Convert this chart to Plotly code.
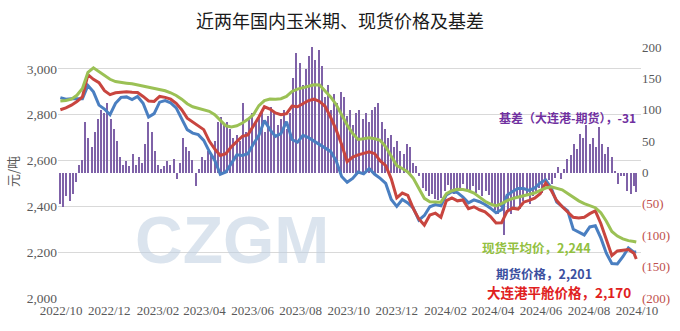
import pandas as pd
import plotly.graph_objects as go

# ---- data ----
line_dates = list(pd.date_range("2022-09-30", periods=105, freq="7D")) + [pd.Timestamp("2024-09-30")]

spot_avg = [2860, 2862, 2868, 2885, 2915, 2985, 3005, 2988, 2968, 2955,
            2945, 2940, 2938, 2935, 2930, 2926, 2920, 2915, 2910, 2905,
            2896, 2884, 2868, 2848, 2835, 2828, 2822, 2815, 2800, 2778,
            2752, 2747, 2752, 2764, 2780, 2800, 2840, 2862, 2869, 2868,
            2870, 2880, 2902, 2912, 2918, 2926, 2931, 2930, 2905, 2878,
            2845, 2800, 2755, 2718, 2692, 2695, 2699, 2695, 2688, 2660,
            2622, 2578, 2565, 2550, 2522, 2478, 2435, 2420, 2418, 2418,
            2455, 2468, 2474, 2473, 2468, 2458, 2440, 2422, 2410, 2402,
            2412, 2425, 2434, 2440, 2444, 2450, 2458, 2470, 2480, 2485,
            2480, 2472, 2456, 2440, 2424, 2412, 2403, 2394, 2372, 2335,
            2290, 2270, 2258, 2250, 2246, 2244]

port_price = [2822, 2830, 2842, 2858, 2878, 2975, 2955, 2940, 2905, 2888,
              2896, 2898, 2900, 2898, 2897, 2880, 2860, 2858, 2880, 2876,
              2868, 2850, 2822, 2785, 2768, 2755, 2735, 2685, 2650, 2622,
              2630, 2660, 2685, 2706, 2712, 2750, 2790, 2835, 2825, 2808,
              2800, 2805, 2838, 2835, 2848, 2862, 2868, 2858, 2837, 2790,
              2735, 2670, 2595, 2615, 2625, 2632, 2638, 2630, 2598, 2578,
              2520, 2437, 2458, 2448, 2390, 2345, 2318, 2362, 2370, 2352,
              2425, 2437, 2424, 2428, 2390, 2398, 2385, 2376, 2355, 2327,
              2328, 2378, 2392, 2388, 2418, 2426, 2436, 2455, 2502, 2470,
              2425, 2398, 2374, 2352, 2349, 2352, 2368, 2380, 2325, 2255,
              2185, 2205, 2208, 2211, 2195, 2170]

futures = [2875, 2868, 2870, 2870, 2870, 2928, 2900, 2842, 2825, 2800,
           2850, 2876, 2878, 2866, 2880, 2850, 2790, 2805, 2855, 2862,
           2852, 2830, 2780, 2735, 2720, 2713, 2688, 2640, 2600, 2540,
           2550, 2588, 2625, 2622, 2630, 2672, 2710, 2775, 2735, 2706,
           2718, 2770, 2692, 2680, 2710, 2700, 2685, 2668, 2655, 2640,
           2600, 2530, 2505, 2522, 2550, 2542, 2565, 2540, 2522, 2500,
           2430, 2400, 2430, 2415, 2392, 2340, 2360, 2398, 2408, 2402,
           2450, 2464, 2460, 2440, 2415, 2428, 2420, 2408, 2392, 2372,
           2385, 2448, 2465, 2478, 2478, 2470, 2480, 2502, 2515, 2480,
           2418, 2398, 2380, 2300, 2288, 2275, 2310, 2315, 2262, 2195,
           2150, 2148, 2180, 2218, 2200, 2201]

bar_dates = list(pd.date_range("2022-09-30", periods=183, freq="4D")) + [pd.Timestamp("2024-09-30")]

basis = [-50, -55, -38, -45, -35, -15, 12, 20, 80, 55,
         40, 65, 85, 100, 95, 110, 85, 70, 50, 25,
         12, 18, 10, 30, 12, 25, 15, 45, 80, 65,
         35, 12, 5, 10, 18, 12, 22, -10, 15, 55,
         40, 35, 20, -22, 5, 25, 20, 35, 28, 50,
         80, 88, 75, 80, 70, 55, 60, 50, 110, 65,
         85, 95, 80, 90, 100, 65, 90, 105, 95, 75,
         85, 100, 70, 95, 150, 190, 175, 140, 165, 185,
         200, 180, 195, 170, 120, 140, 100, 125, 110, 128,
         120, 90, 100, 75, 95, 100, 85, 95, 80, 100,
         105, 110, 80, 70, 55, 60, 40, 50, 35, 30,
         45, 40, 15, 10, -5, -25, -30, -38, -35, -42,
         -44, -40, -30, -20, -28, -34, -25, -30, -18, -26,
         -30, -22, -32, -28, -38, -30, -36, -50, -60, -66,
         -55, -100, -60, -66, -55, -40, -58, -45, -35, -50,
         -38, -30, -25, -33, -15, -12, -18, -8, 9, -10,
         5, 22, 28, 45, 38, 62, 55, 76, 45, 55,
         40, 73, 45, 30, 41, 25, 2, -18, -5, -6,
         -30, -34, -22, -31]

left_ticks = [2000, 2200, 2400, 2600, 2800, 3000]
right_ticks = [-200, -150, -100, -50, 0, 50, 100, 150, 200]

# ---- styles ----
C_BLUE = "#4A7FC1"
C_RED = "#C8453F"
C_GREEN = "#9BC155"
C_BAR = "#7F62A8"
TICK_COLOR = "#595959"
NEG_COLOR = "#C0504D"
SERIF = "Liberation Serif, DejaVu Serif, serif"
CJK = "Noto Sans CJK SC, sans-serif"

def left_label(v):
    return f"{v:,}"

def right_label(v):
    if v < 0:
        return f'<span style="color:{NEG_COLOR}">({abs(v)})</span>'
    return str(v)

fig = go.Figure()

fig.add_trace(go.Bar(x=bar_dates, y=basis, marker=dict(color=C_BAR, line=dict(width=0)),
                     width=1.9 * 86400000, yaxis="y", name="基差"))

fig.add_trace(go.Scatter(x=line_dates, y=futures, mode="lines", yaxis="y2",
                         line=dict(color=C_BLUE, width=3), name="期货价格"))
fig.add_trace(go.Scatter(x=line_dates, y=port_price, mode="lines", yaxis="y2",
                         line=dict(color=C_RED, width=3), name="大连港平舱价格"))
fig.add_trace(go.Scatter(x=line_dates, y=spot_avg, mode="lines", yaxis="y2",
                         line=dict(color=C_GREEN, width=3), name="现货平均价"))

fig.update_layout(
    width=680, height=331,
    margin=dict(l=58, r=39, t=47, b=33, autoexpand=False),
    paper_bgcolor="white", plot_bgcolor="white",
    showlegend=False,
    bargap=0,
    title=dict(text="近两年国内玉米期、现货价格及基差", x=0.5, xanchor="center",
               y=1 - 22 / 331, yanchor="middle", yref="container",
               font=dict(family=CJK, size=18, color="#1a1a1a")),
    xaxis=dict(type="date", range=["2022-09-27", "2024-10-06"],
               tick0="2022-10-01", dtick="M2", tickformat="%Y/%m", tickangle=0,
               automargin=False, ticklabelstandoff=3,
               showgrid=False, zeroline=False, showline=False, ticks="",
               tickfont=dict(family=SERIF, size=13, color=TICK_COLOR)),
    yaxis=dict(side="right", range=[-200, 200], tickvals=right_ticks,
               ticktext=[right_label(v) for v in right_ticks], automargin=False,
               showgrid=False, zeroline=False, showline=False, ticks="",
               tickfont=dict(family=SERIF, size=13, color=TICK_COLOR)),
    yaxis2=dict(side="left", overlaying="y", range=[1999.5, 3096], automargin=False,
                tickvals=left_ticks, ticktext=[left_label(v) for v in left_ticks],
                showgrid=True, gridcolor="#D9D9D9", gridwidth=1,
                zeroline=False, showline=False, ticks="",
                tickfont=dict(family=SERIF, size=13.5, color=TICK_COLOR)),
)

annotations = [
    dict(text="CZGM", x=232, y=240, font=dict(family="Liberation Sans, Arial", size=66, color="rgba(190,206,224,0.55)")),
    dict(text="基差（大连港-期货），-31", x=638, y=118, font=dict(family=CJK, size=12, color="#7030A0"),
         xanchor="right"),
    dict(text="现货平均价，2,244", x=593, y=247, font=dict(family=CJK, size=12.5, color="#92C040"),
         xanchor="right"),
    dict(text="期货价格，2,201", x=594, y=273, font=dict(family=CJK, size=12.5, color="#3B4FA0"),
         xanchor="right"),
    dict(text="大连港平舱价格，2,170", x=633, y=292, font=dict(family=CJK, size=13.5, color="#E02020"),
         xanchor="right"),
]
W, H = 680, 331
PW, PH = W - 58 - 39, H - 47 - 33
for a in annotations:
    fig.add_annotation(text=f"<b>{a['text']}</b>", xref="paper", yref="paper",
                       x=(a["x"] - 58) / PW, y=(H - 33 - a["y"]) / PH,
                       xanchor=a.get("xanchor", "center"), yanchor="middle",
                       showarrow=False, font=a["font"])

fig.add_annotation(text="元/吨", xref="paper", yref="paper",
                   x=(12 - 58) / PW, y=(H - 33 - 172) / PH,
                   xanchor="center", yanchor="middle", textangle=-90, showarrow=False,
                   font=dict(family=CJK, size=13, color=TICK_COLOR))

fig.write_html("out.html")
